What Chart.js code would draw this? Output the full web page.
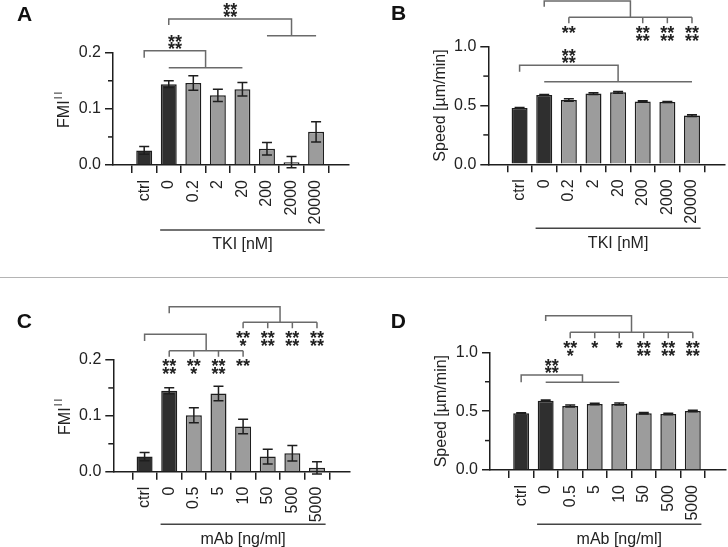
<!DOCTYPE html>
<html>
<head>
<meta charset="utf-8">
<script src="https://cdn.jsdelivr.net/npm/chart.js@4.4.1/dist/chart.umd.min.js"></script>
<style>
  body { margin: 0; background: #fff; }
  #wrap { position: relative; width: 728px; height: 547px; overflow: hidden; background: #fff; }
  #wrap canvas { position: absolute; }
  #sep { position: absolute; left: 0; top: 277px; width: 728px; height: 1px; background: #b4b4b4; }
</style>
</head>
<body>
<div id="wrap">
  <canvas id="chartA" width="364" height="277" style="left:0;top:0"></canvas>
  <canvas id="chartB" width="364" height="277" style="left:364px;top:0"></canvas>
  <div id="sep"></div>
  <canvas id="chartC" width="364" height="269" style="left:0;top:278px"></canvas>
  <canvas id="chartD" width="364" height="269" style="left:364px;top:278px"></canvas>
</div>
<script>
// categories
const tkiDoses = ['ctrl', '0', '0.2', '2', '20', '200', '2000', '20000'];
const mabDoses = ['ctrl', '0', '0.5', '5', '10', '50', '500', '5000'];

// FMI and speed, mean and error
const fmiTki = [0.026, 0.144, 0.146, 0.124, 0.135, 0.029, 0.005, 0.059];
const fmiTkiErr = [0.007, 0.006, 0.013, 0.011, 0.012, 0.011, 0.010, 0.018];
const speedTki = [0.479, 0.589, 0.547, 0.601, 0.612, 0.535, 0.530, 0.414];
const speedTkiErr = [0.004, 0.005, 0.010, 0.008, 0.008, 0.006, 0.005, 0.008];
const fmiMab = [0.027, 0.145, 0.101, 0.140, 0.081, 0.027, 0.033, 0.007];
const fmiMabErr = [0.0075, 0.0055, 0.0135, 0.013, 0.013, 0.013, 0.014, 0.011];
const speedMab = [0.482, 0.589, 0.544, 0.561, 0.561, 0.482, 0.476, 0.501];
const speedMabErr = [0.004, 0.005, 0.009, 0.006, 0.008, 0.006, 0.006, 0.006];

// y ticks (empty label = minor tick)
const fmiTicks = [0, 0.05, 0.1, 0.15, 0.2];
const fmiTickLabels = ['0.0', '', '0.1', '', '0.2'];
const speedTicks = [0, 0.25, 0.5, 0.75, 1.0];
const speedTickLabels = ['0.0', '', '0.5', '', '1.0'];

// significance stars (top to bottom rows)
const starsB = [['**'], ['**', '**'], ['**', '**'], ['**', '**']];
const starsC1 = [['**', '**'], ['**', '*'], ['**', '**'], ['**']];
const starsC2 = [['**', '*'], ['**', '**'], ['**', '**'], ['**', '**']];
const starsD = [['**', '*'], ['*'], ['*'], ['**', '**'], ['**', '**'], ['**', '**']];

const DARK = '#2f2f2f', LIGHT = '#9c9c9c', INK = '#1e1e1e', GREY = '#6a6a6a';
const FONT = "'Liberation Sans', Arial, sans-serif";

Chart.defaults.font.family = FONT;
Chart.defaults.font.size = 16;
Chart.defaults.color = '#222';

function stars(ctx, rows, cx, firstY, step) {
  ctx.font = 'bold 18px ' + FONT;
  ctx.textAlign = 'center';
  ctx.textBaseline = 'alphabetic';
  const m = ctx.measureText('*');
  const shift = (m.actualBoundingBoxAscent - m.actualBoundingBoxDescent) / 2;
  rows.forEach((r, i) => ctx.fillText(r, cx, firstY + i * step + shift));
}

function drawBracket(ctx, x, y, b) {
  const xa = x.getPixelForValue(b.from);
  const g0 = x.getPixelForValue(b.group[0]);
  const g1 = x.getPixelForValue(b.group[1]);
  const xm = (g0 + g1) / 2;
  const yt = y.getPixelForValue(b.top);
  const ye = y.getPixelForValue(b.fromEnd);
  const yg = y.getPixelForValue(b.groupY);
  ctx.strokeStyle = GREY;
  ctx.lineWidth = 1.5;
  ctx.beginPath();
  ctx.moveTo(xa, ye); ctx.lineTo(xa, yt); ctx.lineTo(xm, yt); ctx.lineTo(xm, yg);
  ctx.moveTo(g0, yg); ctx.lineTo(g1, yg);
  (b.drops || []).forEach(d => {
    const xd = x.getPixelForValue(d);
    ctx.moveTo(xd, yg); ctx.lineTo(xd, yg + 6);
  });
  ctx.stroke();
  ctx.fillStyle = '#222';
  if (b.topStars) {
    const n = b.topStars.length;
    stars(ctx, b.topStars, (xa + xm) / 2, yt - 5.5 - (n - 1) * 7, 7);
  }
  if (b.dropStars) {
    b.drops.forEach((d, i) => stars(ctx, b.dropStars[i], x.getPixelForValue(d), yg + 12.3, 7.5));
  }
}

function extras(cfg) {
  return {
    id: 'extras' + cfg.letter,
    afterDraw(chart) {
      const { ctx, chartArea: area, scales: { x, y } } = chart;
      ctx.save();
      ctx.strokeStyle = INK;
      ctx.lineWidth = 1.5;
      // minor y ticks
      cfg.yTicks.forEach((v, i) => {
        if (cfg.yTickLabels[i]) return;
        const py = y.getPixelForValue(v);
        ctx.beginPath(); ctx.moveTo(area.left - 5, py); ctx.lineTo(area.left, py); ctx.stroke();
      });
      // error bars
      chart.getDatasetMeta(0).data.forEach((bar, i) => {
        const yt = y.getPixelForValue(cfg.values[i] + cfg.errs[i]);
        const yb = y.getPixelForValue(cfg.values[i] - cfg.errs[i]);
        ctx.beginPath();
        ctx.moveTo(bar.x, yt); ctx.lineTo(bar.x, yb);
        ctx.moveTo(bar.x - 5, yt); ctx.lineTo(bar.x + 5, yt);
        ctx.moveTo(bar.x - 5, yb); ctx.lineTo(bar.x + 5, yb);
        ctx.stroke();
      });
      cfg.brackets.forEach(b => drawBracket(ctx, x, y, b));

      // dose axis title with underline
      const ul = area.bottom + cfg.ulDy;
      const u0 = x.getPixelForValue(1 - 0.35), u1 = x.getPixelForValue(cfg.labels.length - 1 + 0.35);
      ctx.strokeStyle = '#444';
      ctx.beginPath(); ctx.moveTo(u0, ul); ctx.lineTo(u1, ul); ctx.stroke();
      ctx.fillStyle = '#222';
      ctx.font = '16px ' + FONT;
      ctx.textAlign = 'center';
      ctx.textBaseline = 'middle';
      ctx.fillText(cfg.xTitle, (u0 + u1) / 2, ul + 15);

      // y title
      ctx.save();
      ctx.translate(area.left - 48, (area.top + area.bottom) / 2);
      ctx.rotate(-Math.PI / 2);
      ctx.textAlign = 'left';
      ctx.font = '16px ' + FONT;
      const mainW = ctx.measureText(cfg.yTitle).width;
      let supW = 0;
      if (cfg.ySup) {
        ctx.font = '10px ' + FONT;
        ctx.letterSpacing = '2px';
        supW = ctx.measureText(cfg.ySup).width + 1;
      }
      const start = -(mainW + supW) / 2;
      ctx.font = '16px ' + FONT;
      ctx.letterSpacing = '0px';
      ctx.fillText(cfg.yTitle, start, 0);
      if (cfg.ySup) {
        ctx.font = '10px ' + FONT;
        ctx.letterSpacing = '2px';
        ctx.fillText(cfg.ySup, start + mainW + 1, -6);
      }
      ctx.restore();

      // panel letter
      ctx.font = 'bold 21px ' + FONT;
      ctx.textAlign = 'left';
      ctx.textBaseline = 'alphabetic';
      ctx.fillStyle = '#111';
      ctx.fillText(cfg.letter, cfg.letterPos[0], cfg.letterPos[1]);
      ctx.restore();
    }
  };
}

function makePanel(id, cfg) {
  const canvas = document.getElementById(id);
  const W = canvas.width, H = canvas.height, box = cfg.box;
  return new Chart(canvas, {
    type: 'bar',
    data: {
      datasets: [{
        data: cfg.values.map((v, i) => ({ x: i, y: v })),
        backgroundColor: cfg.values.map((_, i) => i < 2 ? DARK : LIGHT),
        borderColor: INK,
        borderWidth: 1.5,
        barPercentage: 0.65,
        categoryPercentage: 1
      }]
    },
    options: {
      responsive: false,
      animation: false,
      events: [],
      layout: { padding: { left: 0, top: box.top, right: W - box.right, bottom: 0 } },
      plugins: { legend: { display: false }, tooltip: { enabled: false } },
      scales: {
        x: {
          type: 'linear',
          min: -0.67,
          max: 7.74,
          afterBuildTicks: s => { s.ticks = cfg.labels.map((_, i) => ({ value: i })); },
          afterFit: s => { s.height = H - box.bottom; s.paddingLeft = 0; s.paddingRight = 0; },
          ticks: {
            autoSkip: false, minRotation: 90, maxRotation: 90, padding: 7,
            callback: v => cfg.labels[v]
          },
          grid: { drawOnChartArea: false, tickLength: 8, color: INK, lineWidth: 1.5 },
          border: { color: INK, width: 1.5 }
        },
        y: {
          min: 0,
          max: cfg.yTicks[cfg.yTicks.length - 1],
          afterBuildTicks: s => { s.ticks = cfg.yTicks.map(v => ({ value: v })); },
          afterFit: s => { s.width = box.left; s.paddingTop = 0; s.paddingBottom = 0; },
          ticks: { padding: 4, callback: (v, i) => cfg.yTickLabels[i] },
          grid: {
            drawOnChartArea: false, tickLength: 8, lineWidth: 1.5,
            tickColor: c => cfg.yTickLabels[c.index] ? INK : 'rgba(0,0,0,0)'
          },
          border: { color: INK, width: 1.5 }
        }
      }
    },
    plugins: [extras(cfg)]
  });
}

makePanel('chartA', {
  letter: 'A', letterPos: [17, 20.7],
  labels: tkiDoses, values: fmiTki, errs: fmiTkiErr,
  yTicks: fmiTicks, yTickLabels: fmiTickLabels, yTitle: 'FMI', ySup: 'II',
  xTitle: 'TKI [nM]', ulDy: 65,
  box: { left: 113, right: 349, top: 52.7, bottom: 165 },
  brackets: [
    { from: 0, fromEnd: 0.191, top: 0.2036, group: [1, 4], groupY: 0.1733, topStars: ['**', '**'] },
    { from: 1, fromEnd: 0.2493, top: 0.26, group: [5, 7], groupY: 0.2303, topStars: ['**', '**'] }
  ]
});

makePanel('chartB', {
  letter: 'B', letterPos: [27, 20],
  labels: tkiDoses, values: speedTki, errs: speedTkiErr,
  yTicks: speedTicks, yTickLabels: speedTickLabels, yTitle: 'Speed [µm/min]',
  xTitle: 'TKI [nM]', ulDy: 64,
  box: { left: 124.3, right: 361, top: 46.7, bottom: 164.3 },
  brackets: [
    { from: 0, fromEnd: 0.787, top: 0.842, group: [1, 7], groupY: 0.702, topStars: ['**', '**'] },
    { from: 1, fromEnd: 1.34, top: 1.389, group: [2, 7], groupY: 1.25, drops: [2, 5, 6, 7], dropStars: starsB }
  ]
});

makePanel('chartC', {
  letter: 'C', letterPos: [16.7, 50.3],
  labels: mabDoses, values: fmiMab, errs: fmiMabErr,
  yTicks: fmiTicks, yTickLabels: fmiTickLabels, yTitle: 'FMI', ySup: 'II',
  xTitle: 'mAb [ng/ml]', ulDy: 52.6,
  box: { left: 113.3, right: 350, top: 82, bottom: 193.7 },
  brackets: [
    { from: 0, fromEnd: 0.2342, top: 0.2462, group: [1, 4], groupY: 0.2167, drops: [1, 2, 3, 4], dropStars: starsC1 },
    { from: 1, fromEnd: 0.2836, top: 0.2954, group: [4, 7], groupY: 0.2675, drops: [4, 5, 6, 7], dropStars: starsC2 }
  ]
});

makePanel('chartD', {
  letter: 'D', letterPos: [26.7, 50.3],
  labels: mabDoses, values: speedMab, errs: speedMabErr,
  yTicks: speedTicks, yTickLabels: speedTickLabels, yTitle: 'Speed [µm/min]',
  xTitle: 'mAb [ng/ml]', ulDy: 54.3,
  box: { left: 126, right: 361.7, top: 74.3, bottom: 192 },
  brackets: [
    { from: 0, fromEnd: 0.745, top: 0.807, group: [1, 4], groupY: 0.745, topStars: ['**', '**'] },
    { from: 1, fromEnd: 1.266, top: 1.311, group: [2, 7], groupY: 1.17, drops: [2, 3, 4, 5, 6, 7], dropStars: starsD }
  ]
});
</script>
</body>
</html>
